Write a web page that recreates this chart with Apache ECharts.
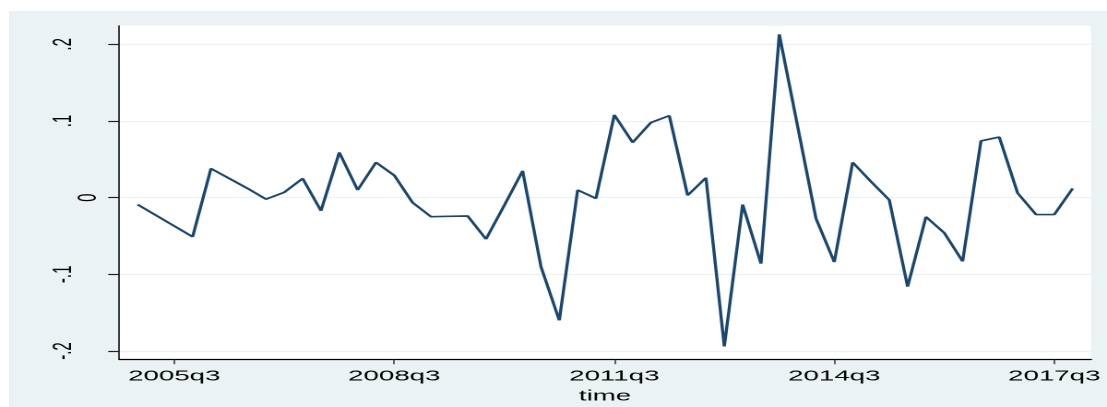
<!DOCTYPE html>
<html>
<head>
<meta charset="utf-8">
<script src="https://cdn.jsdelivr.net/npm/echarts@6/dist/echarts.min.js"></script>
<style>
html, body { margin: 0; padding: 0; background: #fff; overflow: hidden; }
/* stata graph region */
#region { position: absolute; left: 9px; top: 11px; width: 1098px; height: 396px; background: #eaf2f3; }
/* the reference is a stata graph stretched sideways, so draw narrow and stretch */
#chart { position: absolute; left: 0; top: 0; width: 600px; height: 407px; transform: scaleX(1.845); transform-origin: 0 0; }
</style>
</head>
<body>
<div id="region"></div>
<div id="chart"></div>
<script>
var quarters = [
	'2005q1','2005q2','2005q3','2005q4',
	'2006q1','2006q2','2006q3','2006q4',
	'2007q1','2007q2','2007q3','2007q4',
	'2008q1','2008q2','2008q3','2008q4',
	'2009q1','2009q2','2009q3','2009q4',
	'2010q1','2010q2','2010q3','2010q4',
	'2011q1','2011q2','2011q3','2011q4',
	'2012q1','2012q2','2012q3','2012q4',
	'2013q1','2013q2','2013q3','2013q4',
	'2014q1','2014q2','2014q3','2014q4',
	'2015q1','2015q2','2015q3','2015q4',
	'2016q1','2016q2','2016q3','2016q4',
	'2017q1','2017q2','2017q3','2017q4'
];
var values = [
	-0.009, -0.023, -0.037, -0.051,
	0.038, 0.025, 0.012, -0.002,
	0.007, 0.025, -0.017, 0.059,
	0.010, 0.046, 0.029, -0.0065,
	-0.0248, -0.0243, -0.0239, -0.054,
	-0.010, 0.035, -0.090, -0.160,
	0.010, -0.001, 0.108, 0.072,
	0.098, 0.107, 0.003, 0.026,
	-0.194, -0.009, -0.086, 0.213,
	0.093, -0.027, -0.084, 0.046,
	0.021, -0.003, -0.116, -0.025,
	-0.046, -0.083, 0.074, 0.079,
	0.006, -0.022, -0.022, 0.012
];
var xTickLabels = ['2005q3', '2008q3', '2011q3', '2014q3', '2017q3'];
var yTicks = [-0.2, -0.1, 0, 0.1, 0.2];
var yTickLabels = ['-.2', '-.1', '0', '.1', '.2'];

var font = '"Liberation Sans", Arial, sans-serif';
var xTicks = xTickLabels.map(function (q) { return quarters.indexOf(q); });

var myChart = echarts.init(document.getElementById('chart'), null, {devicePixelRatio: 2});
var option = {
	backgroundColor: 'transparent',
	animation: false,
	grid: {
		show: true,
		backgroundColor: '#fff',
		borderWidth: 0,
		left: 64.66,
		right: 8.7,
		top: 25.7,
		bottom: 47.7,
		outerBoundsMode: 'none'
	},
	xAxis: {
		type: 'value',
		min: -1,
		max: quarters.length,
		name: 'time',
		nameLocation: 'middle',
		nameGap: 22,
		nameTextStyle: {color: '#000', fontSize: 15, fontFamily: font},
		axisLine: {show: true, onZero: false, lineStyle: {color: '#000', width: 1.2}},
		axisTick: {show: true, length: 5, customValues: xTicks, lineStyle: {color: '#222', width: 0.7}},
		axisLabel: {
			customValues: xTicks,
			margin: 9.5,
			color: '#000',
			fontSize: 15,
			fontFamily: font,
			formatter: function (v) { return quarters[Math.round(v)]; }
		},
		splitLine: {show: false}
	},
	yAxis: {
		type: 'value',
		min: -0.2108,
		max: 0.2243,
		axisLine: {show: true, onZero: false, lineStyle: {color: '#000', width: 0.75}},
		axisTick: {show: true, length: 6, customValues: yTicks, lineStyle: {color: '#222', width: 1.2}},
		axisLabel: {
			customValues: yTicks,
			rotate: 90,
			margin: 9.5,
			color: '#000',
			fontSize: 15,
			fontFamily: font,
			formatter: function (v) {
				var i = 0;
				for (var k = 0; k < yTicks.length; k++) {
					if (Math.abs(yTicks[k] - v) < 1e-9) i = k;
				}
				// stata pushes the zero label closer to the axis
				return yTicks[i] === 0 ? '{z|' + yTickLabels[i] + '}' : '{n|' + yTickLabels[i] + '}';
			},
			rich: {
				z: {fontSize: 15, fontFamily: font, color: '#000', lineHeight: 15},
				n: {fontSize: 15, fontFamily: font, color: '#000', lineHeight: 42}
			}
		},
		splitLine: {show: true, lineStyle: {color: '#eaf2f3', width: 1.3}}
	},
	series: [
		{
			type: 'line',
			data: values.map(function (v, i) { return [i, v]; }),
			symbol: 'none',
			lineStyle: {color: '#1a476f', width: 1.7},
			itemStyle: {color: '#1a476f'}
		}
	]
};
myChart.setOption(option);
</script>
</body>
</html>
